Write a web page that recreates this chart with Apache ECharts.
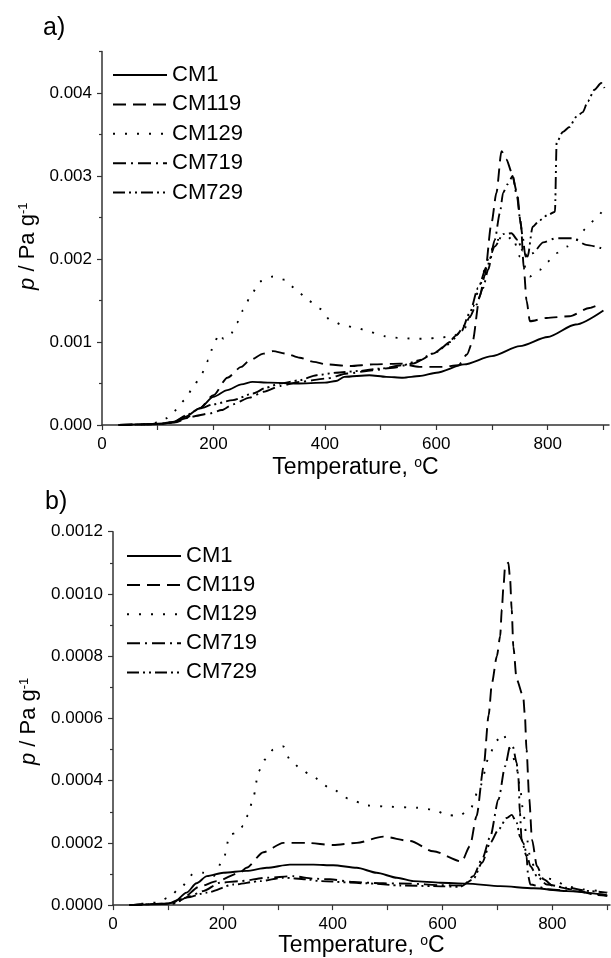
<!DOCTYPE html>
<html><head><meta charset="utf-8">
<script src="https://cdn.jsdelivr.net/npm/echarts@6/dist/echarts.min.js"></script>
<style>html,body{margin:0;padding:0;background:#fff}#c{width:611px;height:958px}</style>
</head><body><div id="c"></div>
<script>
// ---------- categories / ticks ----------
const seriesNames = ['CM1', 'CM119', 'CM129', 'CM719', 'CM729'];
const xLabelValues = [0, 200, 400, 600, 800];
const xTickValues = [0, 100, 200, 300, 400, 500, 600, 700, 800, 900];
const aYLabelValues = [0, 0.001, 0.002, 0.003, 0.004];
const aYMinorValues = [0.0005, 0.0015, 0.0025, 0.0035, 0.0045];
const bYLabelValues = [0, 0.0002, 0.0004, 0.0006, 0.0008, 0.0010, 0.0012];
const bYMinorValues = [0.0001, 0.0003, 0.0005, 0.0007, 0.0009, 0.0011];

// ---------- panel a) data [T (°C), p (Pa/g)] ----------
const aCM1 = [[30,0],[80,0.00001],[110,0.00002],[130,0.00004],[150,0.0001],[175,0.0002],[200,0.00034],[225,0.00042],[250,0.00049],[270,0.00052],[300,0.00051],[350,0.0005],[400,0.00051],[420,0.00053],[435,0.00058],[480,0.0006],[510,0.00058],[540,0.00057],[570,0.00059],[600,0.00063],[650,0.00073],[700,0.00083],[750,0.00095],[800,0.00106],[850,0.00121],[900,0.00138]];
const aCM119 = [[30,0],[100,0.00001],[130,0.00003],[150,0.00008],[175,0.0002],[200,0.00036],[225,0.00057],[250,0.0007],[265,0.00078],[290,0.00086],[307,0.00089],[330,0.00086],[355,0.00081],[380,0.00076],[403,0.00073],[445,0.00071],[487,0.00073],[535,0.00074],[570,0.0007],[610,0.0007],[640,0.00072],[655,0.00085],[665,0.001],[678,0.00155],[687,0.0018],[699,0.00243],[708,0.0028],[717,0.0033],[726,0.0032],[735,0.00305],[745,0.0028],[752,0.0024],[757,0.0019],[762,0.0015],[768,0.00125],[798,0.00129],[839,0.00131],[875,0.00141],[888,0.00144]];
const aCM129 = [[30,0],[80,0.00001],[100,0.00003],[115,0.00008],[128,0.00016],[149,0.0003],[164,0.00046],[179,0.00062],[191,0.00078],[199,0.00094],[210,0.0011],[218,0.00104],[230,0.00108],[242,0.00123],[253,0.00138],[268,0.00157],[283,0.00173],[307,0.00179],[328,0.00175],[349,0.00163],[370,0.0015],[391,0.0014],[409,0.00127],[433,0.0012],[457,0.00117],[481,0.00112],[508,0.00107],[531,0.00105],[558,0.00104],[582,0.00104],[603,0.00105],[630,0.00107],[654,0.00118],[666,0.00143],[678,0.00167],[687,0.00187],[696,0.00207],[708,0.00223],[726,0.00223],[737,0.00227],[750,0.00203],[768,0.00179],[786,0.00187],[800,0.00197],[815,0.00207],[835,0.00215],[851,0.00223],[869,0.00237],[884,0.00247],[899,0.00259]];
const aCM719 = [[30,0],[100,0.00001],[130,0.00003],[160,0.0001],[194,0.00014],[215,0.00018],[235,0.00025],[265,0.00033],[290,0.0004],[320,0.00047],[355,0.00052],[403,0.00056],[440,0.00062],[486,0.00066],[523,0.00069],[558,0.00074],[594,0.00086],[618,0.00096],[636,0.00108],[651,0.0012],[660,0.0013],[672,0.00145],[684,0.00165],[693,0.00187],[705,0.00223],[714,0.00255],[720,0.0028],[728,0.0029],[737,0.003],[745,0.00275],[750,0.0025],[755,0.00227],[760,0.00203],[773,0.00207],[792,0.0022],[815,0.00225],[845,0.00225],[869,0.00217],[896,0.00213]];
const aCM729 = [[30,0],[100,0.00001],[130,0.00004],[152,0.00012],[176,0.0002],[200,0.00025],[235,0.0003],[271,0.00038],[295,0.00045],[319,0.0005],[355,0.00054],[385,0.0006],[420,0.00063],[460,0.00065],[500,0.00068],[540,0.00072],[570,0.00078],[600,0.00088],[625,0.001],[645,0.00113],[660,0.00135],[675,0.00165],[690,0.0019],[705,0.00215],[720,0.0023],[735,0.00231],[746,0.00223],[755,0.0021],[764,0.00203],[773,0.00239],[786,0.00247],[800,0.00253],[813,0.00257],[816,0.0034],[827,0.00353],[839,0.00359],[851,0.00371],[863,0.00377],[872,0.0039],[884,0.00404],[896,0.00412],[902,0.00406]];

// ---------- panel b) data ----------
const bCM1 = [[30,0],[90,0.000003],[110,0.000008],[134,0.00004],[152,0.00007],[171,0.000093],[201,0.000104],[243,0.00011],[280,0.00012],[322,0.00013],[365,0.00013],[401,0.000128],[444,0.00012],[480,0.000104],[517,0.000088],[547,0.000077],[596,0.000072],[644,0.000069],[705,0.000061],[766,0.000054],[826,0.000045],[899,0.000032]];
const bCM119 = [[30,0],[100,0.000005],[125,0.00002],[158,0.00006],[189,0.000077],[231,0.000104],[243,0.00012],[274,0.00017],[310,0.0002],[353,0.0002],[401,0.000193],[444,0.0002],[492,0.00022],[541,0.000206],[583,0.000173],[635,0.00014],[650,0.00019],[662,0.000286],[675,0.000446],[684,0.00061],[690,0.000714],[699,0.0008],[705,0.000864],[708,0.00095],[711,0.001024],[714,0.00109],[720,0.0011],[723,0.00105],[726,0.00095],[729,0.00083],[735,0.000725],[747,0.00067],[750,0.00061],[753,0.0005],[758,0.00034],[763,0.00021],[772,0.000125],[784,0.000083],[802,0.000061],[838,0.00005],[881,0.000032],[900,0.00003]];
const bCM129 = [[30,0],[80,0.000008],[101,0.000024],[125,0.00006],[146,0.0001],[164,0.000104],[183,0.000093],[201,0.000147],[213,0.000227],[225,0.000232],[237,0.000254],[246,0.00029],[256,0.00035],[265,0.00043],[277,0.000468],[292,0.0005],[310,0.00051],[322,0.000468],[341,0.00044],[362,0.000414],[395,0.000377],[432,0.00034],[462,0.00032],[505,0.000316],[553,0.000313],[583,0.000307],[608,0.00029],[629,0.000286],[650,0.000307],[668,0.00038],[687,0.00049],[699,0.00053],[711,0.00055],[720,0.00051],[726,0.00049],[735,0.00044],[741,0.00038],[747,0.0003],[753,0.00022],[760,0.00015],[770,0.00011],[780,0.00009],[802,0.000083],[826,0.00006],[857,0.00005],[890,0.000045],[900,0.00004]];
const bCM719 = [[30,0],[110,0.000005],[140,0.000029],[164,0.000045],[195,0.000072],[231,0.000077],[280,0.000088],[328,0.000093],[365,0.000085],[395,0.000083],[438,0.000074],[492,0.00007],[541,0.000069],[596,0.000064],[638,0.000063],[656,0.000093],[672,0.000147],[687,0.00022],[702,0.00034],[714,0.000446],[723,0.00051],[728,0.00051],[735,0.000457],[738,0.000414],[741,0.000297],[744,0.00021],[753,0.000157],[756,0.000093],[760,0.000066],[796,0.00005],[838,0.000045],[887,0.000034],[900,0.00003]];
const bCM729 = [[30,0],[110,0.000005],[134,0.000024],[171,0.00004],[219,0.000066],[268,0.000077],[310,0.000088],[353,0.000083],[377,0.000077],[462,0.00007],[523,0.000063],[583,0.000061],[632,0.000059],[656,0.000083],[672,0.000136],[687,0.0002],[702,0.000243],[717,0.00028],[726,0.00029],[735,0.000265],[741,0.00022],[747,0.0002],[753,0.000168],[760,0.000125],[772,0.000093],[790,0.000066],[826,0.000056],[869,0.000045],[899,0.00004]];

const aData = [aCM1, aCM119, aCM129, aCM719, aCM729];
const bData = [bCM1, bCM119, bCM129, bCM719, bCM729];

// ---------- styles ----------
const FONT = '"Liberation Sans", Arial, sans-serif';
const dashes = ['solid', [13, 7], [2, 10], [13, 5, 2, 5], [12, 4, 2, 4, 2, 4]];
const axisColor = '#333';

function makeSeries(dataList, gi) {
  return dataList.map((d, i) => ({
    name: seriesNames[i], type: 'line', data: d,
    xAxisIndex: gi, yAxisIndex: gi * 2,
    symbol: 'none', showSymbol: false, smooth: 0.25, smoothMonotone: 'x',
    lineStyle: { color: '#000', width: 1.9, type: dashes[i] },
    itemStyle: { color: '#000' },
    z: 5 - i
  }));
}

function xAxisDef(gi, max, gap) {
  return {
    gridIndex: gi, type: 'value', min: 0, max: max,
    name: '{n|Temperature, }{s|o}{n|C}', nameLocation: 'middle', nameGap: gap,
    nameTextStyle: { rich: {
      n: { fontFamily: FONT, fontSize: 23, color: '#000' },
      s: { fontFamily: FONT, fontSize: 14, color: '#000', verticalAlign: 'top' }
    } },
    axisLine: { show: true, onZero: false, lineStyle: { color: axisColor, width: 1.5 } },
    axisTick: { show: true, customValues: xTickValues, length: 5, lineStyle: { color: axisColor, width: 1.2 } },
    axisLabel: { customValues: xLabelValues, fontFamily: FONT, fontSize: 17, color: '#000', margin: 11 },
    splitLine: { show: false }
  };
}

function yAxisDefs(gi, max, labels, minors, dec, gap, shift) {
  return [{
    gridIndex: gi, type: 'value', min: 0, max: max, position: 'left', offset: 0,
    name: '{i|p}{n| / Pa g}{s|-1}', nameLocation: 'middle', nameGap: gap,
    nameTextStyle: { padding: [0, shift, 0, 0], rich: {
      i: { fontFamily: FONT, fontSize: 22, fontStyle: 'italic', color: '#000' },
      n: { fontFamily: FONT, fontSize: 22, color: '#000' },
      s: { fontFamily: FONT, fontSize: 13, color: '#000', verticalAlign: 'top' }
    } },
    axisLine: { show: true, onZero: false, lineStyle: { color: axisColor, width: 1.5 } },
    axisTick: { show: true, customValues: labels, length: 5, lineStyle: { color: axisColor, width: 1.2 } },
    axisLabel: { customValues: labels, fontFamily: FONT, fontSize: 17, color: '#000', margin: 10,
                 formatter: v => Number(v).toFixed(dec) },
    splitLine: { show: false }
  }, {
    gridIndex: gi, type: 'value', min: 0, max: max, position: 'left', offset: 0,
    axisLine: { show: false },
    axisTick: { show: true, customValues: minors, length: 3, lineStyle: { color: axisColor, width: 1.2 } },
    axisLabel: { show: false },
    splitLine: { show: false }
  }];
}

function legendDef(left, top, gap) {
  return {
    data: seriesNames, orient: 'vertical', left: left, top: top, padding: 0,
    itemWidth: 54, itemHeight: 14, itemGap: gap, selectedMode: false,
    itemStyle: { color: 'rgba(0,0,0,0)', borderWidth: 0, opacity: 0 },
    textStyle: { fontFamily: FONT, fontSize: 22, color: '#000' }
  };
}

const chart = echarts.init(document.getElementById('c'), null, { renderer: 'canvas' });
chart.setOption({
  backgroundColor: '#fff',
  animation: false,
  textStyle: { fontFamily: FONT },
  grid: [
    { left: 102, right: 2, top: 51.5, bottom: 533 },
    { left: 113, right: 1, top: 531.7, bottom: 52.3 }
  ],
  xAxis: [xAxisDef(0, 910, 31), xAxisDef(1, 905, 26)],
  yAxis: [].concat(
    yAxisDefs(0, 0.0045, aYLabelValues, aYMinorValues, 3, 57, 16),
    yAxisDefs(1, 0.0012, bYLabelValues, bYMinorValues, 4, 60, 6)
  ),
  legend: [legendDef(112, 64, 7.4), legendDef(126, 545, 7.1)],
  graphic: [
    { type: 'text', left: 43, top: 16, style: { text: 'a)', font: '25px "Liberation Sans", Arial, sans-serif', fill: '#000' } },
    { type: 'text', left: 45, top: 490, style: { text: 'b)', font: '25px "Liberation Sans", Arial, sans-serif', fill: '#000' } }
  ],
  series: makeSeries(aData, 0).concat(makeSeries(bData, 1))
});
</script>
</body></html>
